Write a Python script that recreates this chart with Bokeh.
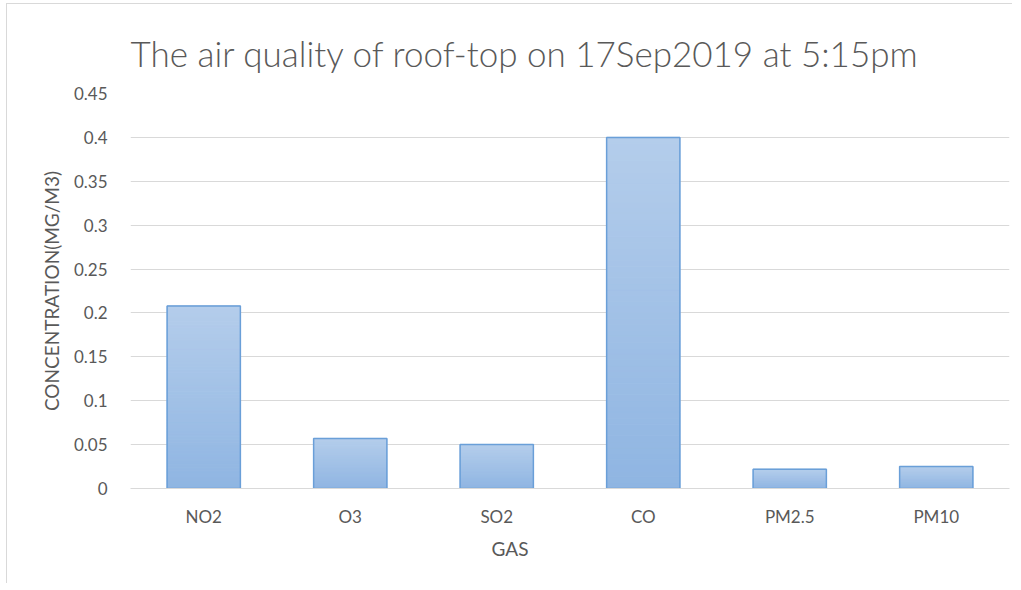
from bokeh.plotting import figure
from bokeh.models import FactorRange, Range1d, FixedTicker, Title
from bokeh.embed import file_html
from bokeh.resources import INLINE
import numpy as np

gases = ["NO2", "O3", "SO2", "CO", "PM2.5", "PM10"]
concentration = [0.208, 0.057, 0.050, 0.400, 0.022, 0.025]
y_ticks = [0, 0.05, 0.1, 0.15, 0.2, 0.25, 0.3, 0.35, 0.4, 0.45]

title_text = "The air quality of roof-top  on 17Sep2019 at 5:15pm"
x_label = "GAS"
y_label = "CONCENTRATION(MG/M3)"

FONT = "Lato"
TXT = "#595959"

p = figure(width=1006, height=580, x_range=FactorRange(*gases), y_range=Range1d(0, 0.45),
           output_backend="svg", toolbar_location=None,
           min_border_left=123, min_border_right=4, min_border_top=89, min_border_bottom=96)
p.title = None
p.outline_line_color = None
p.background_fill_color = "white"
p.border_fill_color = "white"
p.styles = {"margin-left": "6px", "margin-top": "3px",
            "border-left": "1px solid #d9d9d9", "border-top": "1px solid #d9d9d9"}

# gradient bars built from slices
N = 60
bottom_rgb = np.array([143, 181, 226])
top_rgb = np.array([180, 205, 235])
xs, bs, ts, cs = [], [], [], []
for g, v in zip(gases, concentration):
    for k in range(N):
        f = (k + 0.5) / N
        c = bottom_rgb + (top_rgb - bottom_rgb) * f
        xs.append(g)
        bs.append(v * k / N)
        ts.append(v * (k + 1) / N)
        cs.append("#%02x%02x%02x" % tuple(int(round(t)) for t in c))
p.vbar(x=xs, bottom=bs, top=ts, width=0.5, fill_color=cs, line_color=cs, line_width=1)
p.vbar(x=gases, top=concentration, width=0.5, fill_color=None, line_color="#6a9fd8", line_width=1.5)

# axes
p.yaxis.ticker = FixedTicker(ticks=y_ticks)
p.yaxis.major_label_overrides = {t: f"{t:g}" for t in y_ticks}
for ax in (p.xaxis, p.yaxis):
    ax.major_tick_line_color = None
    ax.minor_tick_line_color = None
    ax.major_label_text_font = FONT
    ax.major_label_text_color = TXT
    ax.major_label_text_font_size = "17px"
    ax.axis_label_text_font = FONT
    ax.axis_label_text_color = TXT
    ax.axis_label_text_font_style = "normal"
p.yaxis.axis_line_color = None
p.xaxis.axis_line_color = "#d9d9d9"
p.yaxis.major_label_standoff = 17
p.xaxis.major_label_standoff = 11
p.yaxis.axis_label = y_label
p.yaxis.axis_label_text_font_size = "19px"
p.yaxis.axis_label_standoff = 8

p.xgrid.grid_line_color = None
p.ygrid.grid_line_color = "#d9d9d9"
p.ygrid.grid_line_width = 1

p.add_layout(Title(text=x_label, align="left", offset=361, text_font=FONT, text_font_size="19px",
                   text_color=TXT, text_font_style="normal"), "below")
p.add_layout(Title(text=title_text, align="left", offset=0, text_font="'Lato Light', Lato",
                   text_font_size="35px", text_color=TXT, text_font_style="normal", standoff=40), "above")

open("out.html", "w").write(file_html(p, INLINE))
